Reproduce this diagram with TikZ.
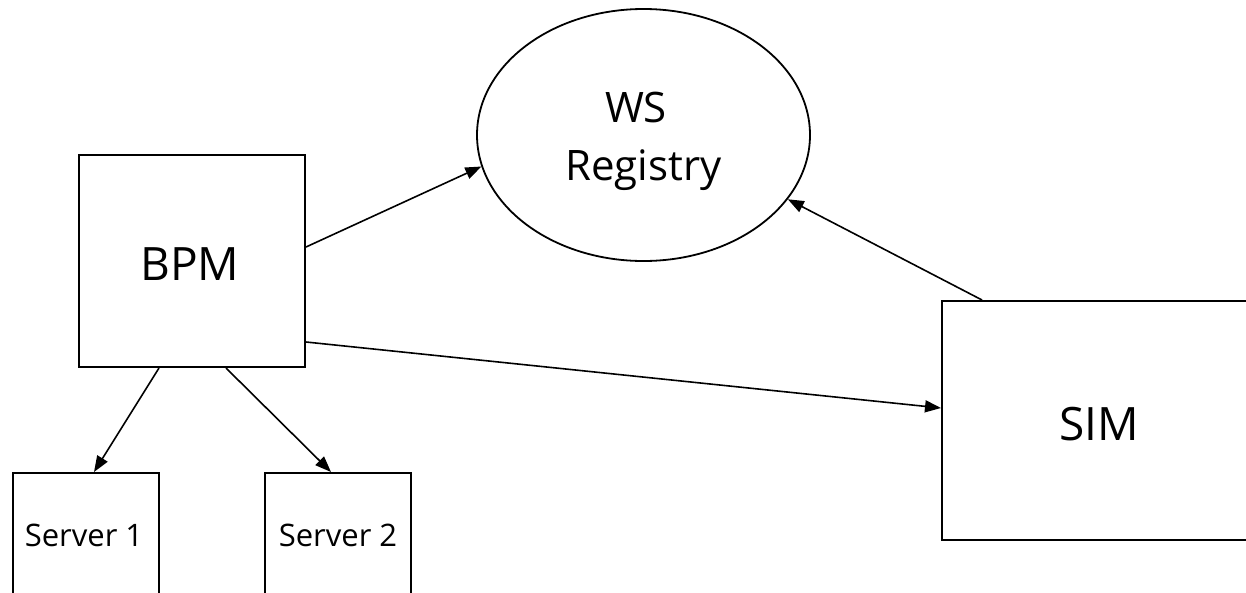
\documentclass[tikz,border=0pt]{standalone}
\usepackage{fontspec}
\setmainfont{Open Sans}
\usetikzlibrary{arrows.meta,shapes.geometric}

\tikzset{
  box/.style={draw, line width=2pt, rectangle, inner sep=0pt},
  oval/.style={draw, line width=1.8pt, ellipse, inner sep=0pt},
  lbl/.style={inner sep=0pt, anchor=base},
  link/.style={line width=1.6pt, -{Triangle[length=16pt,width=12pt]}},
}

\begin{document}
\begin{tikzpicture}[x=1pt,y=-1pt]
  \useasboundingbox (0,0) rectangle (1246,592);
  \clip (0,0) rectangle (1246,592);

  % registry oval
  \node[oval, minimum width=333pt, minimum height=252pt] (reg) at (643.5,135) {};
  \node[lbl, font=\fontsize{42pt}{58pt}\selectfont] (ws) at (636,122) {WS};
  \node[lbl, font=\fontsize{42pt}{58pt}\selectfont] (registry) at (643.5,180) {Registry};

  % process manager
  \node[box, minimum width=226pt, minimum height=212pt] (bpm) at (192,261) {};
  \node[lbl, font=\fontsize{46pt}{50pt}\selectfont] (bpmtext) at (190,280) {BPM};

  % service integration module, running past the right edge
  \node[box, minimum width=314pt, minimum height=239pt] (sim) at (1099,420.5) {};
  \node[lbl, font=\fontsize{46pt}{50pt}\selectfont] (simtext) at (1099,440) {SIM};

  % servers, running past the bottom edge
  \node[box, minimum width=146pt, minimum height=200pt] (s1) at (86,573) {};
  \node[lbl, font=\fontsize{31pt}{36pt}\selectfont] (s1text) at (84,546) {Server 1};
  \node[box, minimum width=146pt, minimum height=200pt] (s2) at (338,573) {};
  \node[lbl, font=\fontsize{31pt}{36pt}\selectfont] (s2text) at (338,546) {Server 2};

  % connectors
  \draw[link] ([yshift=14pt]bpm.east) -- (reg.191.6);
  \draw[link] ([xshift=-117pt]sim.north) -- (reg.336.3);
  \draw[link] ([yshift=-81pt]bpm.east) -- ([yshift=12.5pt]sim.west);
  \draw[link] ([xshift=-33pt]bpm.south) -- ([xshift=8pt]s1.north);
  \draw[link] ([xshift=34pt]bpm.south) -- ([xshift=-7pt]s2.north);
\end{tikzpicture}
\end{document}
